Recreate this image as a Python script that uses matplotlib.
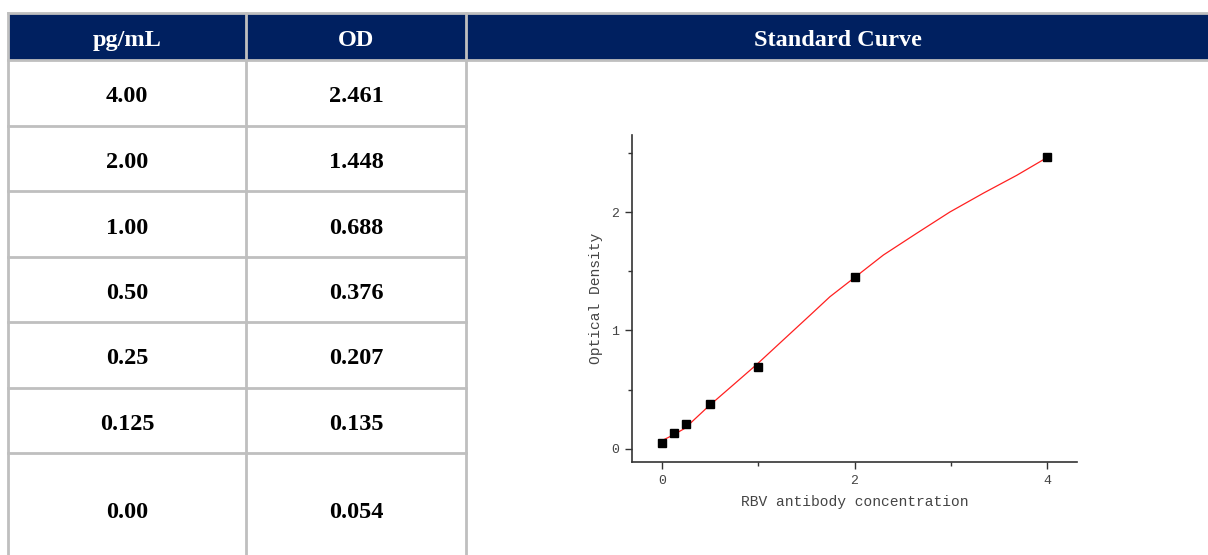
import matplotlib
matplotlib.use("Agg")
import matplotlib.pyplot as plt
from matplotlib.patches import Rectangle
from matplotlib.ticker import MultipleLocator

# Table data
headers = ["pg/mL", "OD", "Standard Curve"]
conc_labels = ["4.00", "2.00", "1.00", "0.50", "0.25", "0.125", "0.00"]
od_labels = ["2.461", "1.448", "0.688", "0.376", "0.207", "0.135", "0.054"]

# Standard points
conc = [4.0, 2.0, 1.0, 0.5, 0.25, 0.125, 0.0]
od = [2.461, 1.448, 0.688, 0.376, 0.207, 0.135, 0.054]

# Fitted curve
curve_x = [0.0, 0.118, 0.24, 0.48, 0.74, 0.99, 1.26, 1.54, 1.745, 1.99,
           2.30, 2.645, 2.99, 3.34, 3.685, 4.0]
curve_y = [0.07, 0.118, 0.175, 0.357, 0.54, 0.717, 0.92, 1.13, 1.285, 1.44,
           1.637, 1.82, 2.0, 2.16, 2.31, 2.46]

W, H = 1208, 555
navy = "#002060"
grid = "#bfbfbf"

fig = plt.figure(figsize=(W / 100, H / 100), dpi=100)

# table layer in pixel coordinates
tab = fig.add_axes([0, 0, 1, 1])
tab.set_xlim(0, W)
tab.set_ylim(H, 0)
tab.axis("off")

col_x = [8, 246, 466, W + 2]
row_y = [60, 126, 191, 257, 322, 388, 453, H + 2]
head_top = 13

tab.add_patch(Rectangle((col_x[0], head_top), W - col_x[0] + 2, row_y[0] - head_top,
                        facecolor=navy, edgecolor="none"))
tab.plot([col_x[0], W], [head_top, head_top], color=grid, lw=2)
tab.plot([col_x[0], W], [row_y[0], row_y[0]], color=grid, lw=2)
for cx in col_x[:3]:
    tab.plot([cx, cx], [head_top, H], color=grid, lw=2)
for ry in row_y[1:-1]:
    tab.plot([col_x[0], col_x[2]], [ry, ry], color=grid, lw=2)

tfont = dict(family="Liberation Serif", weight="bold", size=17.5)
for i, h in enumerate(headers):
    tab.text((col_x[i] + col_x[i + 1]) / 2, (head_top + row_y[0]) / 2 + 4, h,
             color="white", ha="center", va="center", **tfont)
for r in range(len(conc_labels)):
    yc = (row_y[r] + row_y[r + 1]) / 2 + 4
    if r == len(conc_labels) - 1:
        yc = 513
    tab.text((col_x[0] + col_x[1]) / 2, yc, conc_labels[r], ha="center", va="center", **tfont)
    tab.text((col_x[1] + col_x[2]) / 2, yc, od_labels[r], ha="center", va="center", **tfont)

# standard curve plot
ax = fig.add_axes([632 / W, 1 - 462 / H, (1077 - 632) / W, (462 - 135) / H])
ax.plot(curve_x, curve_y, color="#ff2020", lw=0.9, zorder=2)
ax.plot(conc, od, "s", color="black", ms=6, zorder=3)
ax.set_xlim(-0.31, 4.31)
ax.set_ylim(-0.11, 2.65)
ax.spines["top"].set_visible(False)
ax.spines["right"].set_visible(False)
for s in ["left", "bottom"]:
    ax.spines[s].set_color("#333333")
    ax.spines[s].set_linewidth(1.2)
ax.xaxis.set_major_locator(MultipleLocator(2))
ax.xaxis.set_minor_locator(MultipleLocator(1))
ax.yaxis.set_major_locator(MultipleLocator(1))
ax.yaxis.set_minor_locator(MultipleLocator(0.5))
ax.tick_params(which="major", length=5, width=1, color="#333333", labelsize=9.5,
               labelcolor="#444444", pad=4)
ax.tick_params(which="minor", length=3, width=1, color="#333333")
for lab in ax.get_xticklabels() + ax.get_yticklabels():
    lab.set_family("Liberation Mono")
mfont = dict(family="Liberation Mono", size=10.5, color="#444444")
ax.set_xlabel("RBV antibody concentration", labelpad=6, **mfont)
ax.set_ylabel("Optical Density", labelpad=6, **mfont)

fig.savefig("out.png", dpi=100)
